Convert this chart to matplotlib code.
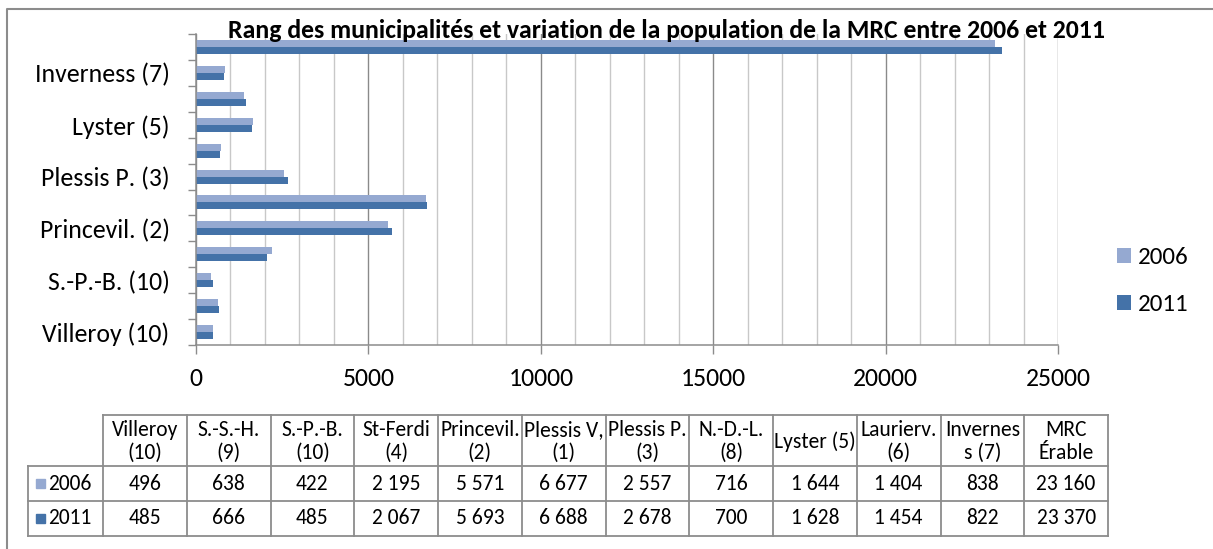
import matplotlib.pyplot as plt
import matplotlib.patches as mpatches
from matplotlib.ticker import MultipleLocator, FixedLocator
import numpy as np

plt.rcParams['font.family'] = ['Carlito', 'Lato', 'DejaVu Sans']

# categories, bottom to top on the chart
axis_labels = ["Villeroy (10)", "S.-S.-H. (9)", "S.-P.-B. (10)", "St-Ferdi (4)",
               "Princevil. (2)", "Plessis V, (1)", "Plessis P. (3)", "N.-D.-L. (8)",
               "Lyster (5)", "Laurierv. (6)", "Inverness (7)", "MRC Érable"]
table_headers = ["Villeroy\n(10)", "S.-S.-H.\n(9)", "S.-P.-B.\n(10)", "St-Ferdi\n(4)",
                 "Princevil.\n(2)", "Plessis V,\n(1)", "Plessis P.\n(3)", "N.-D.-L.\n(8)",
                 "Lyster (5)", "Laurierv.\n(6)", "Invernes\ns (7)", "MRC\nÉrable"]
pop_2006 = [496, 638, 422, 2195, 5571, 6677, 2557, 716, 1644, 1404, 838, 23160]
pop_2011 = [485, 666, 485, 2067, 5693, 6688, 2678, 700, 1628, 1454, 822, 23370]
series_names = ["2006", "2011"]

c2006 = "#95A9D1"
c2011 = "#4472A8"
grey = "#8C8C8C"

W, H = 1213, 549
fig = plt.figure(figsize=(W / 100, H / 100), dpi=100)

# outer chart border (left and top only visible)
border = fig.add_axes([0, 0, 1, 1], zorder=-1)
border.set_xlim(0, W)
border.set_ylim(H, 0)
border.axis("off")
border.plot([7, 7, W + 5], [H + 5, 9, 9], color=grey, lw=1.5)

ax = fig.add_axes([196 / W, 1 - 345 / H, (1058 - 196) / W, (345 - 34) / H])

y = np.arange(len(axis_labels))
h = 0.27
b06 = ax.barh(y + h / 2, pop_2006, height=h, color=c2006, label=series_names[0])
b11 = ax.barh(y - h / 2, pop_2011, height=h, color=c2011, label=series_names[1])

ax.set_xlim(0, 25000)
ax.set_ylim(-0.5, len(axis_labels) - 0.5)
ax.xaxis.set_major_locator(MultipleLocator(5000))
ax.xaxis.set_minor_locator(MultipleLocator(1000))
ax.grid(which="major", axis="x", color="#8A8A8A", lw=1.0)
ax.grid(which="minor", axis="x", color="#C8C8C8", lw=1.0)
ax.set_axisbelow(True)
ax.tick_params(axis="x", which="major", length=6.5, width=1.0, color=grey,
               labelsize=18.5, pad=9)
ax.tick_params(axis="x", which="minor", length=0)

ax.yaxis.set_major_locator(FixedLocator(y[::2]))
ax.set_yticklabels(axis_labels[::2])
ax.yaxis.set_minor_locator(FixedLocator(np.arange(-0.5, len(axis_labels), 1.0)))
ax.tick_params(axis="y", which="major", length=0, labelsize=18.5, pad=19)
ax.tick_params(axis="y", which="minor", length=5.8, width=1.0, color=grey)

for s in ["top", "right"]:
    ax.spines[s].set_visible(False)
for s in ["left", "bottom"]:
    ax.spines[s].set_color(grey)
    ax.spines[s].set_linewidth(1.1)

fig.text(667 / W, 1 - 31 / H,
         "Rang des municipalités et variation de la population de la MRC entre 2006 et 2011",
         ha="center", va="center", fontsize=18.5, fontweight="bold")

fig.legend(handles=[b06, b11], loc="center left",
           bbox_to_anchor=(1117 / W, 1 - 281 / H), frameon=False, fontsize=18,
           handlelength=0.55, handleheight=0.55, handletextpad=0.3,
           labelspacing=1.05, borderpad=0, borderaxespad=0)

# data table under the chart
tax = fig.add_axes([0, 0, 1, 1])
tax.set_xlim(0, W)
tax.set_ylim(H, 0)
tax.axis("off")

x_lab, x0, x1 = 28, 103, 1108
cw = (x1 - x0) / len(table_headers)
yh0, yh1, yr1, yr2 = 415, 466, 501, 536
lw = 1.3
tax.plot([x0, x1], [yh0, yh0], color=grey, lw=lw)
for yy in (yh1, yr1, yr2):
    tax.plot([x_lab, x1], [yy, yy], color=grey, lw=lw)
tax.plot([x_lab, x_lab], [yh1, yr2], color=grey, lw=lw)
for k in range(len(table_headers) + 1):
    xx = x0 + k * cw
    tax.plot([xx, xx], [yh0, yr2], color=grey, lw=lw)

fs = 15.5
for k, name in enumerate(table_headers):
    cx = x0 + (k + 0.5) * cw
    tax.text(cx, (yh0 + yh1) / 2 + 1, name, ha="center", va="center",
             fontsize=fs, linespacing=1.15)
    tax.text(cx, (yh1 + yr1) / 2, f"{pop_2006[k]:,}".replace(",", " "),
             ha="center", va="center", fontsize=fs)
    tax.text(cx, (yr1 + yr2) / 2, f"{pop_2011[k]:,}".replace(",", " "),
             ha="center", va="center", fontsize=fs)

for (ya, yb), name, col in zip([(yh1, yr1), (yr1, yr2)], series_names, [c2006, c2011]):
    cy = (ya + yb) / 2
    tax.add_patch(mpatches.Rectangle((36, cy - 4.5), 9, 9, color=col))
    tax.text(48, cy, name, ha="left", va="center", fontsize=fs)

fig.savefig("out.png", dpi=100)
